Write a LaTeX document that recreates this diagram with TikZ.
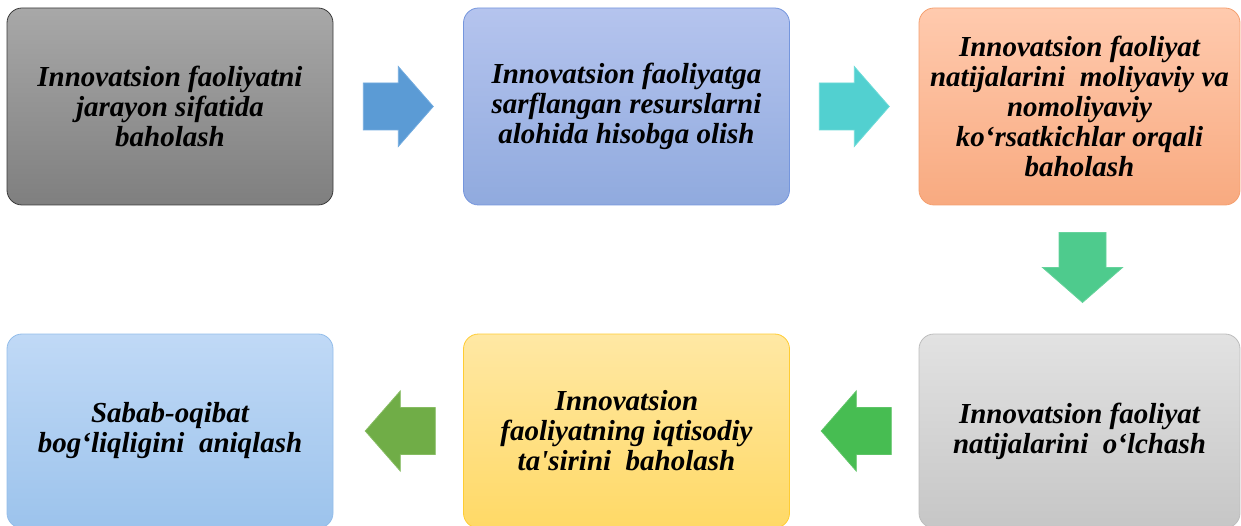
\documentclass[tikz,border=0pt]{standalone}
\usepackage{fontspec}
\setmainfont{Liberation Serif}[Ligatures=TeXOff]
\usetikzlibrary{calc}
\begin{document}
\begin{tikzpicture}[x=1pt,y=-1pt,
  box/.style={rectangle, rounded corners=15pt, line width=0.8pt, minimum width=326pt, minimum height=197pt,
    align=center, inner sep=0pt, font=\fontsize{29}{30}\selectfont\bfseries\itshape, text=black},
  blockarrow/.pic={\draw[pic actions] (-35,-23.5) -- (0,-23.5) -- (0,-40) -- (35,0) -- (0,40) -- (0,23.5) -- (-35,23.5) -- cycle;},
  arr/.style={line width=0.8pt, line join=miter}]
\definecolor{g1t}{HTML}{A8A8A8}\definecolor{g1b}{HTML}{7F7F7F}\definecolor{g1d}{HTML}{3A3A3A}
\definecolor{b2t}{HTML}{B5C4EE}\definecolor{b2b}{HTML}{90AADE}\definecolor{b2d}{HTML}{7596DD}
\definecolor{o3t}{HTML}{FFCAAE}\definecolor{o3b}{HTML}{F8AA80}\definecolor{o3d}{HTML}{F4A070}
\definecolor{g4t}{HTML}{E2E2E2}\definecolor{g4b}{HTML}{C6C6C6}\definecolor{g4d}{HTML}{BDBDBD}
\definecolor{y5t}{HTML}{FFE8A4}\definecolor{y5b}{HTML}{FFD966}\definecolor{y5d}{HTML}{FFCC33}
\definecolor{l6t}{HTML}{C0D9F6}\definecolor{l6b}{HTML}{9CC3EC}\definecolor{l6d}{HTML}{93BDEA}
\definecolor{a1}{HTML}{5B9BD5}\definecolor{a1d}{HTML}{72ABDF}
\definecolor{a2}{HTML}{52D0D0}\definecolor{a2d}{HTML}{6EDBD8}
\definecolor{a3}{HTML}{4ECB8D}\definecolor{a3d}{HTML}{66D39C}
\definecolor{a4}{HTML}{47BD52}\definecolor{a4d}{HTML}{5EC467}
\definecolor{a5}{HTML}{70AD47}\definecolor{a5d}{HTML}{86BC62}
\useasboundingbox (0,0) rectangle (1241,526);
\clip (0,0) rectangle (1241,526);
\node[box, top color=g1t, bottom color=g1b, draw=g1d] (n1) at (170,106.5)
  {Innovatsion faoliyatni\\jarayon sifatida\\baholash};
\node[box, top color=b2t, bottom color=b2b, draw=b2d] (n2) at (626.5,106.5)
  {Innovatsion faoliyatga\\sarflangan resurslarni\\alohida hisobga olish};
\node[box, minimum width=321pt, top color=o3t, bottom color=o3b, draw=o3d] (n3) at (1079.5,106.5)
  {Innovatsion faoliyat\\natijalarini\ \ moliyaviy va\\nomoliyaviy\\ko‘rsatkichlar orqali\\baholash};
\node[box, minimum width=321pt, minimum height=194pt, top color=g4t, bottom color=g4b, draw=g4d] (n4) at (1079.5,431)
  {Innovatsion faoliyat\\natijalarini\ \ o‘lchash};
\node[box, minimum height=194pt, top color=y5t, bottom color=y5b, draw=y5d] (n5) at (626.5,431)
  {Innovatsion\\faoliyatning iqtisodiy\\ta'sirini\ \ baholash};
\node[box, minimum height=194pt, top color=l6t, bottom color=l6b, draw=l6d] (n6) at (170,431)
  {Sabab-oqibat\\bog‘liqligini\ \ aniqlash};
\coordinate (c12) at ($(n1.east)!0.5!(n2.west)$);
\coordinate (c23) at ($(n2.east)!0.5!(n3.west)$);
\coordinate (c34) at ($(n3.south)!0.5!(n4.north)+(3,-2)$);
\coordinate (c45) at ($(n4.west)!0.5!(n5.east)+(2,0)$);
\coordinate (c56) at ($(n5.west)!0.5!(n6.east)+(2,0)$);
\pic[arr, fill=a1, draw=a1d] at (c12) {blockarrow};
\pic[arr, fill=a2, draw=a2d] at (c23) {blockarrow};
\pic[arr, fill=a3, draw=a3d, rotate=-90] at (c34) {blockarrow};
\pic[arr, fill=a4, draw=a4d, rotate=180] at (c45) {blockarrow};
\pic[arr, fill=a5, draw=a5d, rotate=180] at (c56) {blockarrow};
\end{tikzpicture}
\end{document}
